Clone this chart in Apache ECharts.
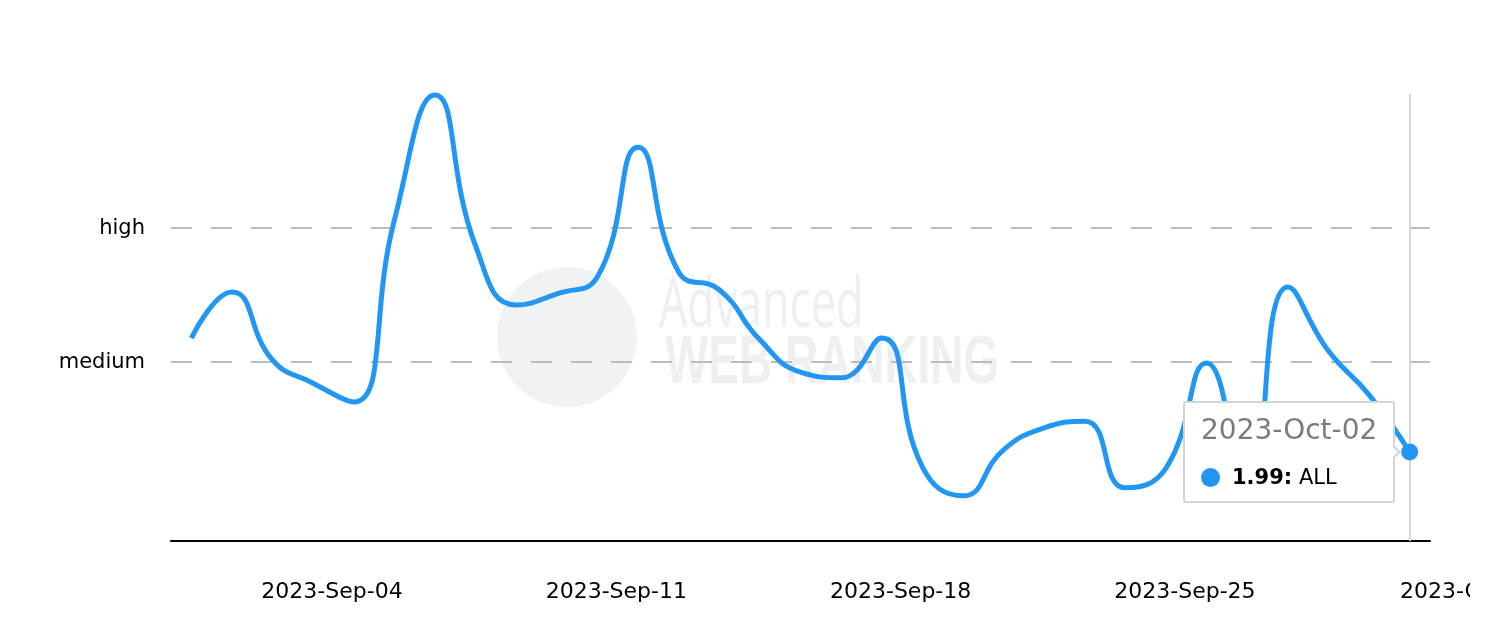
<!DOCTYPE html>
<html>
<head>
<meta charset="utf-8">
<script src="https://cdn.jsdelivr.net/npm/echarts@6/dist/echarts.min.js"></script>
<style>
  html, body { margin: 0; padding: 0; background: #fff; }
  #chart { width: 1470px; height: 634px; }
</style>
</head>
<body>
<div id="chart"></div>
<script>
// daily volatility score, Sep 02 - Oct 02 2023
const dates = [
  '2023-Sep-02', '2023-Sep-03', '2023-Sep-04', '2023-Sep-05', '2023-Sep-06', '2023-Sep-07',
  '2023-Sep-08', '2023-Sep-09', '2023-Sep-10', '2023-Sep-11', '2023-Sep-12', '2023-Sep-13',
  '2023-Sep-14', '2023-Sep-15', '2023-Sep-16', '2023-Sep-17', '2023-Sep-18', '2023-Sep-19',
  '2023-Sep-20', '2023-Sep-21', '2023-Sep-22', '2023-Sep-23', '2023-Sep-24', '2023-Sep-25',
  '2023-Sep-26', '2023-Sep-27', '2023-Sep-28', '2023-Sep-29', '2023-Sep-30', '2023-Oct-01',
  '2023-Oct-02'
]
const values = [
  4.54, 5.57, 4.05, 3.53, 3.11, 7.18, 9.98, 6.60, 5.28, 5.53,
  5.91, 8.81, 6.02, 5.62, 4.50, 3.78, 3.65, 4.54, 1.66, 1.01,
  2.04, 2.53, 2.68, 1.19, 1.63, 3.98, 1.14, 5.68, 4.25, 3.27,
  1.99
]
const seriesName = 'ALL'

// x labels shown once a week
const xTickLabels = ['2023-Sep-04', '2023-Sep-11', '2023-Sep-18', '2023-Sep-25', '2023-Oct-02']
// named levels on the y axis
const yLevels = [4, 7]
const yLevelNames = ['medium', 'high']

const blue = '#2196f3'
const lastIdx = values.length - 1
const lastPoint = [[dates[lastIdx], values[lastIdx]]]

const chart = echarts.init(document.getElementById('chart'), null, { renderer: 'canvas' })

chart.setOption({
  animation: false,
  backgroundColor: '#fff',
  grid: { left: 171, right: 40, top: 94, bottom: 93, containLabel: false, outerBoundsMode: 'none' },
  // faint watermark behind the plot
  graphic: [
    { type: 'circle', silent: true, z: 0, shape: { cx: 567, cy: 337, r: 70 }, style: { fill: '#f0f2f4' } },
    {
      type: 'text', silent: true, z: 0, x: 659, y: 272, scaleX: 0.8, scaleY: 1.25,
      style: { text: 'Advanced', font: '56px "Open Sans"', fill: '#edeff1', verticalAlign: 'top' }
    },
    {
      type: 'text', silent: true, z: 0, x: 665, y: 330, scaleX: 0.82, scaleY: 1.23,
      style: { text: 'WEB RANKING', font: 'bold 56px "Liberation Sans"', fill: '#edeff1', verticalAlign: 'top' }
    }
  ],
  tooltip: {
    trigger: 'item',
    position: 'left',
    alwaysShowContent: true,
    transitionDuration: 0,
    backgroundColor: '#fff',
    borderColor: '#d4d4d4',
    borderWidth: 2,
    borderRadius: 3,
    padding: [10, 16, 10, 16],
    extraCssText: 'box-shadow:none;',
    formatter: function () {
      return '<div style="font-family:\'DejaVu Sans\';">' +
        '<div style="font-size:28px;line-height:34px;color:#7b7b7b;">' + dates[lastIdx] + '</div>' +
        '<div style="font-size:21px;line-height:28px;color:#000;margin-top:16px;">' +
        '<span style="display:inline-block;width:19px;height:19px;border-radius:50%;background:' + blue +
        ';vertical-align:-3px;margin-right:12px;"></span>' +
        '<b>' + values[lastIdx].toFixed(2) + ':</b> ' + seriesName + '</div></div>'
    }
  },
  xAxis: {
    type: 'category',
    data: dates,
    boundaryGap: true,
    axisLine: { lineStyle: { color: '#000', width: 2 } },
    axisTick: { show: false },
    splitLine: { show: false },
    axisLabel: {
      interval: function (idx, val) { return xTickLabels.indexOf(val) >= 0 },
      color: '#000',
      fontFamily: 'DejaVu Sans',
      fontSize: 22,
      margin: 40,
      padding: [0, 0, 0, 119]
    },
    axisPointer: {
      show: true,
      type: 'line',
      value: lastIdx,
      status: 'show',
      triggerTooltip: false,
      z: 1,
      label: { show: false },
      lineStyle: { color: '#d8d8d8', width: 2, type: 'solid' }
    }
  },
  yAxis: {
    type: 'value',
    min: 0,
    max: 10,
    interval: 1,
    axisLine: { show: false },
    axisTick: { show: false },
    splitLine: { show: false },
    axisLabel: {
      color: '#000',
      fontFamily: 'DejaVu Sans',
      fontSize: 21,
      margin: 26,
      formatter: function (v) {
        const i = yLevels.indexOf(v)
        return i >= 0 ? yLevelNames[i] : ''
      }
    }
  },
  series: [
    {
      name: seriesName,
      type: 'line',
      data: values,
      smooth: 0.5,
      showSymbol: false,
      silent: true,
      tooltip: { show: false },
      lineStyle: { color: blue, width: 5 },
      itemStyle: { color: blue },
      z: 3,
      markLine: {
        silent: true,
        z: 1,
        symbol: ['none', 'none'],
        label: { show: false },
        lineStyle: { type: [21, 19], color: '#bcbcbc', width: 2 },
        emphasis: { disabled: true },
        data: yLevels.map(function (v) { return { yAxis: v } })
      }
    },
    {
      // visible marker on the hovered point
      name: seriesName,
      type: 'scatter',
      data: lastPoint,
      symbol: 'circle',
      symbolSize: 17,
      silent: true,
      tooltip: { show: false },
      itemStyle: { color: blue, opacity: 1 },
      emphasis: { disabled: true },
      z: 4
    },
    {
      // small invisible anchor that the tooltip points to
      name: seriesName,
      type: 'scatter',
      data: lastPoint,
      symbol: 'circle',
      symbolSize: 8,
      itemStyle: { color: blue, opacity: 0 },
      emphasis: { disabled: true },
      z: 5
    }
  ]
})

chart.dispatchAction({ type: 'showTip', seriesIndex: 2, dataIndex: 0 })
</script>
</body>
</html>
